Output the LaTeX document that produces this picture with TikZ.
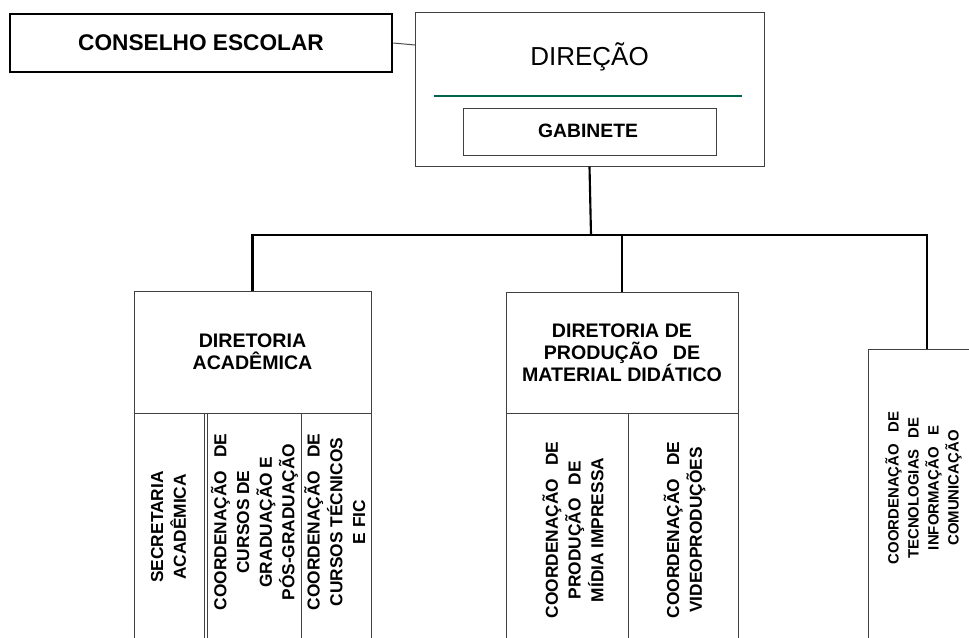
\documentclass[tikz,border=0pt]{standalone}
\usepackage{fontspec}
\setmainfont{Liberation Sans}
\usetikzlibrary{fit}

\definecolor{rulegreen}{RGB}{0,100,80}
\newcommand{\wgap}{\hspace{0.75em}}

\tikzset{
  box/.style={draw=black!75, line width=0.75pt, inner sep=0pt},
  heavybox/.style={draw=black, line width=1.9pt, inner sep=0pt},
  link/.style={draw=black!70, line width=0.75pt},
  branch/.style={draw=black, line width=1.6pt},
  vlabel/.style={rotate=90, align=center, inner sep=0pt,
    font=\bfseries\fontsize{13}{17}\selectfont},
  vsmall/.style={vlabel, font=\bfseries\fontsize{11.2}{15}\selectfont},
  title/.style={align=center, inner sep=0pt, font=\bfseries\fontsize{14.7}{16.5}\selectfont},
}

\begin{document}
\begin{tikzpicture}[x=0.75pt, y=-0.75pt]
    \useasboundingbox (0,0) rectangle (969,637);

    % Conselho escolar, with its thick frame
    \node[heavybox, fit={(10,14) (392,72)}] (conselho) {};
    \node[anchor=base, font=\bfseries\fontsize{17}{19}\selectfont] (conselhotxt) at (201,50) {CONSELHO ESCOLAR};

    % Direcao with the green rule and the gabinete inside
    \node[box, fit={(415,12) (764,166)}] (direcao) {};
    \node[anchor=base, font=\fontsize{19.5}{22}\selectfont] (direcaotxt) at (589.5,65) {DIREÇÃO};
    \draw[rulegreen, line width=1.6pt] (434,96) -- (742,96);
    \node[box, fit={(463,108) (716,155)}] (gabinete) {};
    \node[anchor=base, font=\bfseries\fontsize{14.5}{16}\selectfont] (gabinetetxt) at (588,137) {GABINETE};

    % Diretoria academica and its three units
    \node[box, fit={(134,291) (371,413)}] (acad) {};
    \node[title] (acadtxt) at (acad.center) {DIRETORIA\\ACADÊMICA};
    \node[box, fit={(134,413) (204,642)}] (sec) {};
    \node[box, fit={(207,413) (301,642)}] (cgrad) {};
    \node[box, fit={(301,413) (371,642)}] (ctec) {};
    \node[vlabel] (sectxt) at (168.5,527) {SECRETARIA\\ACADÊMICA};
    \node[vlabel] (cgradtxt) at (254.5,522) {COORDENAÇÃO\wgap DE\\CURSOS DE\\GRADUAÇÃO E\\PÓS-GRADUAÇÃO};
    \node[vlabel] (ctectxt) at (334.7,522) {COORDENAÇÃO\wgap DE\\CURSOS TÉCNICOS\\E FIC};

    % Diretoria de producao and its two units
    \node[box, fit={(506,292) (738,413)}] (prod) {};
    \node[title] (prodtxt) at (prod.center) {DIRETORIA DE\\PRODUÇÃO\wgap DE\\MATERIAL DIDÁTICO};
    \node[box, fit={(506,413) (628,642)}] (cmid) {};
    \node[box, fit={(628,413) (738,642)}] (cvid) {};
    \node[vlabel] (cmidtxt) at (573,530) {COORDENAÇÃO\wgap DE\\PRODUÇÃO\wgap DE\\MÍDIA IMPRESSA};
    \node[vlabel] (cvidtxt) at (684.5,530) {COORDENAÇÃO\wgap DE\\VIDEOPRODUÇÕES};

    % Tecnologias, cut at the right edge
    \node[box, fit={(868,349) (986,660)}] (tic) {};
    \node[vsmall] (tictxt) at (923.5,488) {COORDENAÇÃO\wgap DE\\TECNOLOGIAS\wgap DE\\INFORMAÇÃO\wgap E\\COMUNICAÇÃO};

    % Connectors
    \coordinate (cjoin) at (415,45);
    \coordinate (hub) at (591,235);
    \draw[link] (conselho.east) -- (cjoin);
    \draw[branch] (direcao.south) -- (hub);
    \draw[branch] (acad.north) |- (hub) -| (tic.north);
    \draw[branch] (hub -| prod.north) -- (prod.north);
\end{tikzpicture}
\end{document}
